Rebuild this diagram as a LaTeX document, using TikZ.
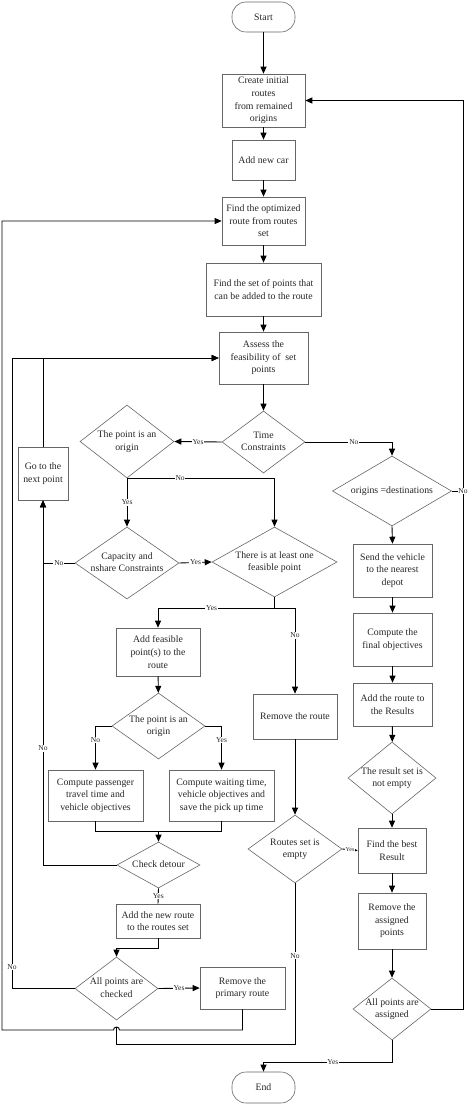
\documentclass[tikz,border=0pt]{standalone}
\usepackage{fontspec}
\setmainfont{Liberation Serif}
\usetikzlibrary{arrows.meta,shapes.geometric,calc}

\newcommand{\dtxt}[1]{\makebox[0pt]{\begin{tabular}{@{}c@{}}#1\end{tabular}}}

\begin{document}
\begin{tikzpicture}[
  x=1pt, y=1pt,
  every node/.style={font=\fontsize{9.8}{12.6}\selectfont, text=black!85},
  wh/.style 2 args={minimum width=#1pt, minimum height=#2pt},
  proc/.style={rectangle, draw=black!60, line width=0.6pt, align=center, inner sep=1pt},
  term/.style={rectangle, rounded corners=14pt, draw=black!60, line width=0.6pt, wh={63}{30}},
  decision/.style={diamond, draw=black!60, line width=0.6pt, inner sep=0pt},
  flow/.style={draw, line width=0.9pt},
  arr/.style={flow, -{Triangle[length=7pt,width=6pt]}},
  lbl/.style={font=\fontsize{7.5}{9}\selectfont, fill=white, inner sep=0.8pt}
]
\useasboundingbox (0,0) rectangle (474,-1105);

\node[term] (start) at (263.5,-17) {Start};
\node[proc, wh={83}{53}] (create) at (263.5,-100.5) {Create initial\\routes\\from remained\\origins};
\node[proc, wh={63}{40}] (addcar) at (263.5,-160) {Add new car};
\node[proc, wh={83}{48}] (findopt) at (263.5,-221) {Find the optimized\\route from routes\\set};
\node[proc, wh={115}{53}] (findset) at (263.5,-289.5) {Find the set of points that\\can be added to the route};
\node[proc, wh={89}{52}] (assess) at (263.5,-358) {Assess the\\feasibility of\ \ set\\points};
\node[decision, wh={83}{62}] (timec) at (263.5,-442) {\dtxt{Time\\Constraints}};
\node[decision, wh={94}{73}] (origin1) at (127,-441.5) {\dtxt{The point is an\\origin}};
\node[proc, wh={50}{53}] (nextpt) at (43,-473.5) {Go to the\\next point};
\node[decision, wh={119}{70}] (odest) at (392,-491) {\dtxt{origins =destinations}};
\node[decision, wh={104}{72}] (capac) at (127,-563) {\dtxt{Capacity and\\nshare Constraints}};
\node[decision, wh={125}{70}] (feas) at (274.5,-562) {\dtxt{There is at least one\\feasible point}};
\node[proc, wh={79}{53}] (sendv) at (392.5,-570.5) {Send the vehicle\\to the nearest\\depot};
\node[proc, wh={79}{53}] (finalobj) at (392.5,-639.5) {Compute the\\final objectives};
\node[proc, wh={79}{43}] (addres) at (392.5,-704.5) {Add the route to\\the Results};
\node[decision, wh={88}{72}] (notempty) at (392,-778) {\dtxt{The result set is\\not empty}};
\node[proc, wh={68}{45}] (best) at (392,-850.5) {Find the best\\Result};
\node[proc, wh={68}{56}] (remassigned) at (392,-921) {Remove the\\assigned\\points};
\node[decision, wh={78}{62}] (allassigned) at (392,-1009) {\dtxt{All points are\\assigned}};
\node[proc, wh={84}{48}] (addfeas) at (158,-652) {Add feasible\\point(s) to the\\route};
\node[decision, wh={93}{66}] (origin2) at (158.5,-726) {\dtxt{The point is an\\origin}};
\node[proc, wh={95}{51}] (comppass) at (95.5,-795.5) {Compute passenger\\travel time and\\vehicle objectives};
\node[proc, wh={105}{51}] (compwait) at (221.5,-795.5) {Compute waiting time,\\vehicle objectives and\\save the pick up time};
\node[decision, wh={83}{46}] (detour) at (158.5,-865) {\dtxt{Check detour}};
\node[proc, wh={84}{34}] (addnew) at (158,-921) {Add the new route\\to the routes set};
\node[decision, wh={83}{63}] (allchecked) at (116.5,-988.5) {\dtxt{All points are\\checked}};
\node[proc, wh={85}{42}] (remprim) at (242.5,-988) {Remove the\\primary route};
\node[proc, wh={84}{45}] (remroute) at (295,-716.5) {Remove the route};
\node[decision, wh={94}{68}] (rsempty) at (295,-849) {\dtxt{Routes set is\\empty}};
\node[term, wh={63}{31}] (endn) at (263.5,-1087.5) {End};

\coordinate (rtop) at (463,-100.5);
\coordinate (lx1) at (2,-221);
\coordinate (lx2) at (12,-358);
\coordinate (hop) at (116.5,-1030);
\coordinate (lowy) at (116.5,-1044);
\coordinate (fsplit) at (274.5,-608);
\coordinate (merge) at (158.5,-831);

\draw[arr] (start) -- (create);
\draw[arr] (create) -- (addcar);
\draw[arr] (addcar) -- (findopt);
\draw[arr] (findopt) -- (findset);
\draw[arr] (findset) -- (assess);
\draw[arr] (assess) -- (timec);
\draw[arr] (timec.west) -- (origin1.east) node[lbl, midway] {Yes};
\draw[arr] (timec.east) -| (odest.north) node[lbl, pos=0.28] {No};
\draw[arr] (origin1.south) -- (capac.north) node[lbl, midway] {Yes};
\draw[arr] (origin1.south) -| (feas.north) node[lbl, pos=0.18] {No};
\draw[arr] (capac.east) -- (feas.west) node[lbl, midway] {Yes};
\draw[arr] (capac.west) -| (nextpt.south) node[lbl, pos=0.25] {No};
\draw[arr] (detour.west) -| (nextpt.south) node[lbl, pos=0.66] {No};
\draw[arr] (nextpt.north) |- (assess.west);
\draw[arr] (allchecked.west) -| (lx2) -- (assess.west);
\node[lbl] at ($(lx2)!0.966!(lx2 |- allchecked.west)$) {No};
\draw[arr] (remprim.south) |- ([xshift=3pt]hop) arc[start angle=0, end angle=180, radius=3pt]
  -- (hop -| lx1) -- (lx1) -- (findopt.west);
\draw[flow] (rsempty.south) |- (lowy) -- ([yshift=3pt]hop);
\node[lbl] at ($(rsempty.south)!0.45!(rsempty.south |- lowy)$) {No};
\draw[flow] (feas.south) -- (fsplit);
\draw[arr] (fsplit) -| (addfeas.north) node[lbl, pos=0.27] {Yes};
\draw[arr] (fsplit) -| (remroute.north) node[lbl, pos=0.66] {No};
\draw[arr] (addfeas) -- (origin2);
\draw[arr] (origin2.west) -| (comppass.north) node[lbl, pos=0.66] {No};
\draw[arr] (origin2.east) -| (compwait.north) node[lbl, pos=0.66] {Yes};
\draw[flow] (comppass.south) |- (merge) -| (compwait.south);
\draw[arr] (merge) -- (detour.north);
\draw[flow] (detour.south) -- (addnew.north) node[lbl, midway] {Yes};
\draw[arr] (addnew.south) -- ++(0,-10) -| (allchecked.north);
\draw[arr] (allchecked.east) -- (remprim.west) node[lbl, midway] {Yes};
\draw[arr] (remroute) -- (rsempty);
\draw[arr] (rsempty.east) -- (best.west) node[lbl, midway, font=\fontsize{6}{7}\selectfont] {Yes};
\draw[arr] (odest.south) -- (sendv.north);
\draw[arr] (sendv) -- (finalobj);
\draw[arr] (finalobj) -- (addres);
\draw[arr] (addres) -- (notempty);
\draw[arr] (notempty) -- (best);
\draw[arr] (best) -- (remassigned);
\draw[arr] (remassigned) -- (allassigned);
\draw[arr] (allassigned.east) -- (allassigned.east -| rtop) -- (rtop) -- (create.east);
\draw[flow] (odest.east) -- (odest.east -| rtop) node[lbl, pos=1] {No};
\draw[arr] (allassigned.south) -- ++(0,-22) -| (endn.north) node[lbl, pos=0.23] {Yes};
\end{tikzpicture}
\end{document}
